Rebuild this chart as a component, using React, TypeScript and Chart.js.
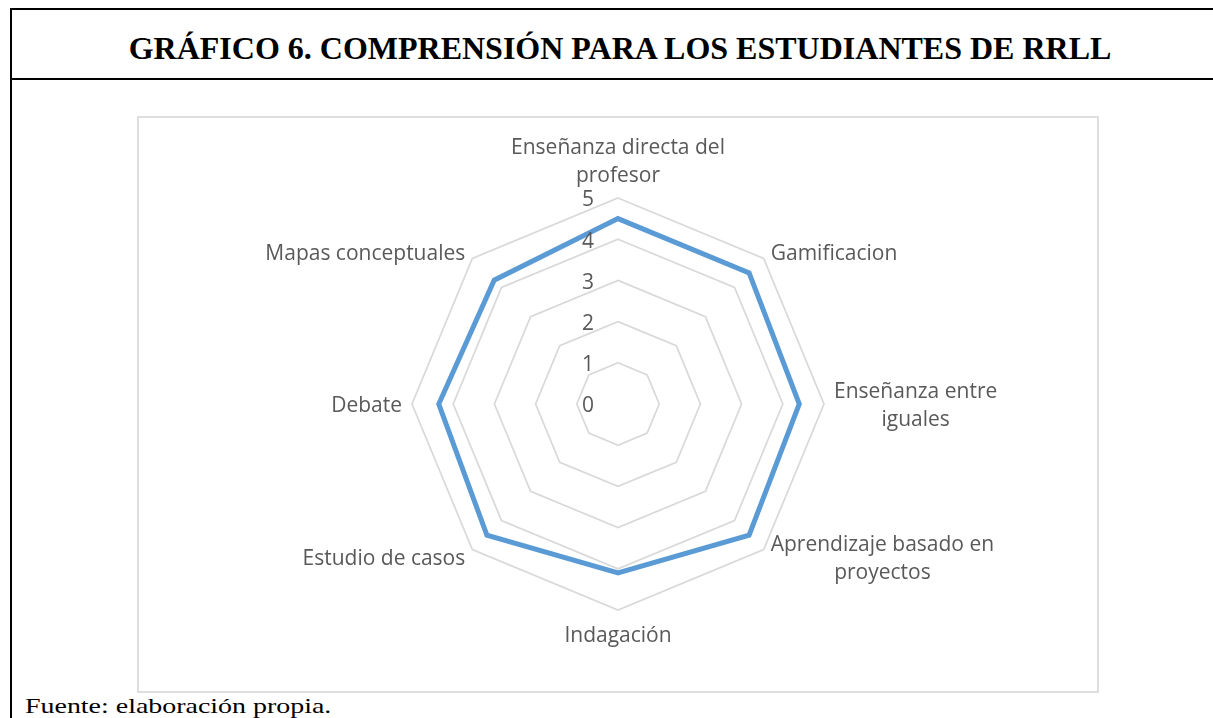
import React, { useEffect, useRef } from "react";
import { Chart, registerables } from "chart.js";

Chart.register(...registerables);

const categories: (string | string[])[] = [
  ["Enseñanza directa del", "profesor"],
  "Gamificacion",
  ["Enseñanza entre", "iguales"],
  ["Aprendizaje basado en", "proyectos"],
  "Indagación",
  "Estudio de casos",
  "Debate",
  "Mapas conceptuales",
];
const values = [4.5, 4.5, 4.4, 4.5, 4.1, 4.5, 4.35, 4.25];
const axisMin = 0;
const axisMax = 5;
const axisStep = 1;
const TITLE = "GRÁFICO 6. COMPRENSIÓN PARA LOS ESTUDIANTES DE RRLL";
const SOURCE = "Fuente: elaboración propia.";

const labelPlugin = {
  id: "excelLabels",
  afterDatasetsDraw(chart: any) {
    const scale = chart.scales.r;
    const ctx = chart.ctx;
    const yShift = 2.5;
    ctx.save();
    ctx.fillStyle = "#595959";
    ctx.font = '21px "Open Sans"';
    ctx.textBaseline = "middle";
    ctx.textAlign = "center";
    scale.ticks.forEach((t: any) => {
      const d = scale.getDistanceFromCenterForValue(t.value);
      ctx.fillText(String(t.label), scale.xCenter - 30, scale.yCenter - d + yShift);
    });
    const labels = chart.data.labels;
    const lh = 28;
    for (let i = 0; i < labels.length; i++) {
      const raw = labels[i];
      const lines: string[] = Array.isArray(raw) ? raw : [raw];
      const p = scale.getPointPosition(i, scale.drawingArea + 10);
      const dx = p.x - scale.xCenter;
      const dy = p.y - scale.yCenter;
      const bw = Math.max(...lines.map((l) => ctx.measureText(l).width));
      const bh = lines.length * lh;
      let cx: number;
      let top: number;
      const vertical = Math.abs(dx) < 1;
      if (vertical) cx = p.x;
      else if (dx > 0) cx = p.x + bw / 2;
      else cx = p.x - bw / 2;
      if (vertical && dy < 0) top = p.y - bh;
      else if (vertical && dy > 0) top = p.y;
      else top = p.y - bh / 2;
      lines.forEach((l, j) => ctx.fillText(l, cx, top + lh * j + lh / 2 + yShift));
    }
    ctx.restore();
  },
};

function RadarChart() {
  const ref = useRef<HTMLCanvasElement | null>(null);
  useEffect(() => {
    if (!ref.current) return;
    const chart = new Chart(ref.current, {
      type: "radar",
      data: {
        labels: categories,
        datasets: [
          {
            label: "Comprensión",
            data: values,
            borderColor: "#5b9bd5",
            borderWidth: 5,
            fill: false,
            pointRadius: 0,
            pointHoverRadius: 0,
            borderJoinStyle: "miter",
          },
        ],
      },
      options: {
        responsive: false,
        animation: false,
        layout: { padding: { top: 82, bottom: 83, left: 0, right: 0 } },
        plugins: { legend: { display: false }, tooltip: { enabled: false } },
        scales: {
          r: {
            min: axisMin,
            max: axisMax,
            ticks: { stepSize: axisStep, display: false },
            angleLines: { display: false },
            grid: { color: "#d9d9d9", lineWidth: 1.75 },
            pointLabels: { display: false },
          },
        },
      },
      plugins: [labelPlugin],
    });
    return () => chart.destroy();
  }, []);
  return (
    <canvas
      ref={ref}
      width={962}
      height={577}
      style={{ position: "absolute", left: 137, top: 116, width: 962, height: 577 }}
    />
  );
}

export default function App() {
  return (
    <div
      style={{
        position: "absolute",
        left: 0,
        top: 0,
        width: 1213,
        height: 718,
        overflow: "hidden",
        background: "#fff",
      }}
    >
      <div
        style={{
          position: "absolute",
          left: 10,
          top: 8,
          width: 1210,
          height: 720,
          borderTop: "2px solid #000",
          borderLeft: "2px solid #000",
        }}
      />
      <div style={{ position: "absolute", left: 10, top: 78, width: 1210, height: 2, background: "#000" }} />
      <div
        style={{
          position: "absolute",
          left: 20,
          top: 14,
          width: 1200,
          height: 68,
          display: "flex",
          alignItems: "center",
          justifyContent: "center",
          fontFamily: '"Liberation Serif", serif',
          fontWeight: "bold",
          fontSize: 32,
          lineHeight: "36px",
          color: "#000",
          whiteSpace: "nowrap",
        }}
      >
        {TITLE}
      </div>
      <div
        style={{
          position: "absolute",
          left: 137,
          top: 116,
          width: 962,
          height: 577,
          boxSizing: "border-box",
          border: "2px solid #dedede",
        }}
      />
      <RadarChart />
      <div
        style={{
          position: "absolute",
          left: 25,
          top: 696,
          fontFamily: '"Liberation Serif", serif',
          fontSize: 21,
          lineHeight: "21px",
          color: "#000",
          whiteSpace: "nowrap",
          transform: "scaleX(1.33)",
          transformOrigin: "left top",
        }}
      >
        {SOURCE}
      </div>
    </div>
  );
}
